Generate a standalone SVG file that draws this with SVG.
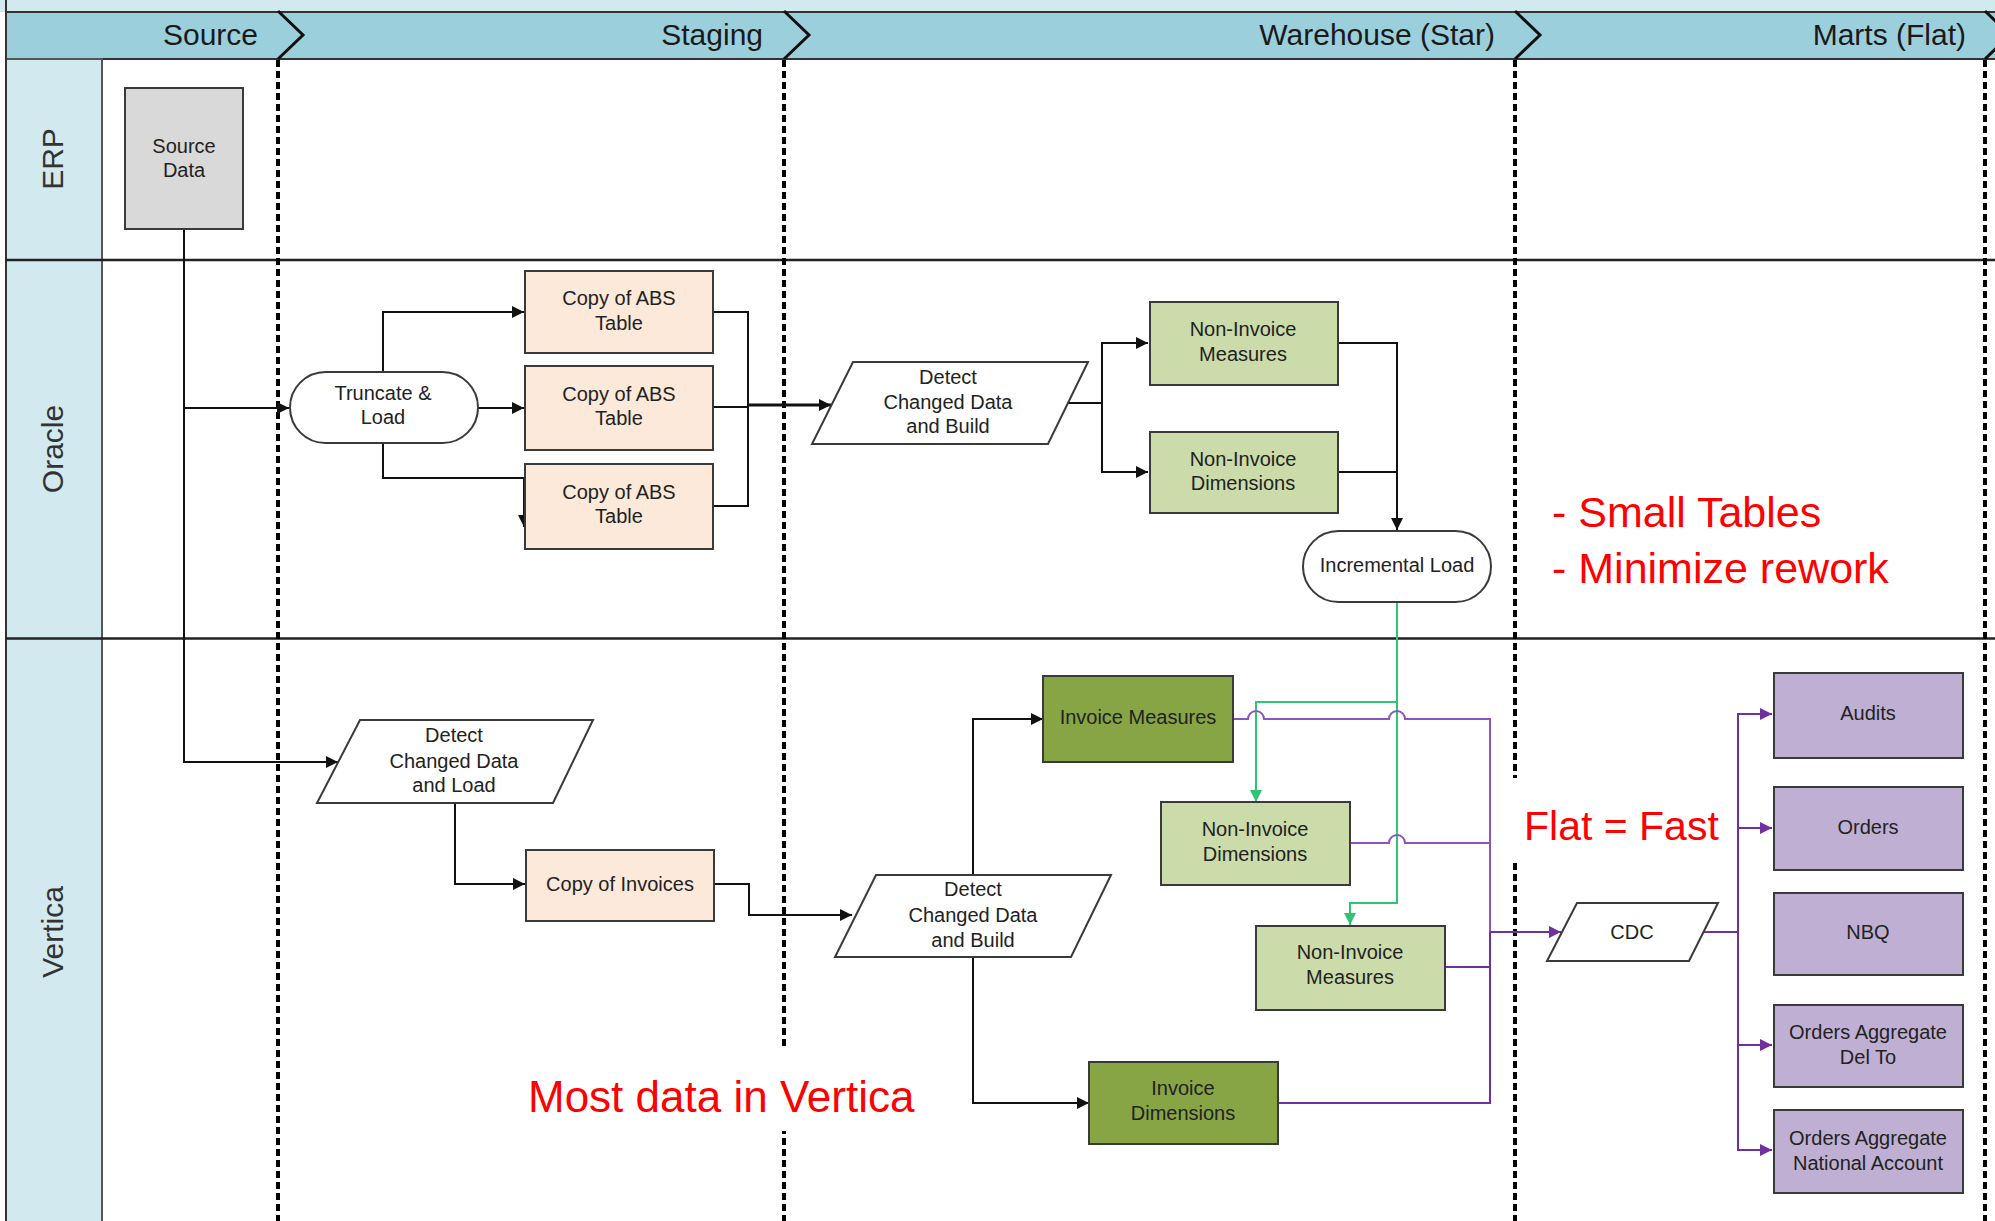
<svg xmlns="http://www.w3.org/2000/svg" width="1995" height="1221" viewBox="0 0 1995 1221">
<defs>
<marker id="ab" markerUnits="userSpaceOnUse" markerWidth="13" markerHeight="12" refX="12" refY="6" orient="auto"><path d="M0,0 L12,6 L0,12 z" fill="#111"/></marker>
<marker id="ag" markerUnits="userSpaceOnUse" markerWidth="13" markerHeight="12" refX="12" refY="6" orient="auto"><path d="M0,0 L12,6 L0,12 z" fill="#2dc472"/></marker>
<marker id="ap" markerUnits="userSpaceOnUse" markerWidth="13" markerHeight="12" refX="12" refY="6" orient="auto"><path d="M0,0 L12,6 L0,12 z" fill="#7030a0"/></marker>
</defs>
<style>
.t{font-family:"Liberation Sans",Arial,sans-serif;font-size:20px;fill:#222;text-anchor:middle}
.h{font-family:"Liberation Sans",Arial,sans-serif;font-size:30px;fill:#1a1a1a;text-anchor:end}
.ln{font-family:"Liberation Sans",Arial,sans-serif;font-size:30px;fill:#333;text-anchor:middle}
.red{font-family:"Liberation Sans",Arial,sans-serif;font-size:43px;fill:#ff0000}
.box{stroke:#3a3a3a;stroke-width:2}
.gray{fill:#d9d9d9}
.peach{fill:#fce9d9}
.lg{fill:#cbdba9}
.dg{fill:#87a545}
.pu{fill:#bfb0d3}
.wh{fill:#fff}
.cb{fill:none;stroke:#111;stroke-width:2}
.cg{fill:none;stroke:#2dc472;stroke-width:2}
.cp{fill:none;stroke:#7030a0;stroke-width:2}
.cpl{fill:none;stroke:#8a55c0;stroke-width:2}
.dash{stroke:#000;stroke-width:4;stroke-dasharray:7 4}
</style>
<rect width="1995" height="1221" fill="#fff"/>
<g id="pool">
<rect x="0" y="0" width="1995" height="12" fill="#d2e9ef"/>
<rect x="6" y="12" width="1995" height="47" fill="#9bcfdc" stroke="#333" stroke-width="2"/>
<rect x="6" y="59" width="96" height="1170" fill="#d2e9ef" stroke="#555" stroke-width="2"/>
<line x1="6" y1="0" x2="6" y2="1221" stroke="#333" stroke-width="2"/>
<line x1="6" y1="260" x2="1995" y2="260" stroke="#222" stroke-width="2.5"/>
<line x1="6" y1="638.5" x2="1995" y2="638.5" stroke="#222" stroke-width="2.5"/>
<g fill="none" stroke="#111" stroke-width="3">
<path d="M278,11 L303,35 L278,59"/>
<path d="M784,11 L809,35 L784,59"/>
<path d="M1515,11 L1540,35 L1515,59"/>
<path d="M1985,11 L2010,35 L1985,59"/>
</g>
<text class="h" x="258" y="45">Source</text>
<text class="h" x="763" y="45">Staging</text>
<text class="h" x="1495" y="45">Warehouse (Star)</text>
<text class="h" x="1966" y="45">Marts (Flat)</text>
<text class="ln" transform="translate(63,159) rotate(-90)">ERP</text>
<text class="ln" transform="translate(63,449) rotate(-90)">Oracle</text>
<text class="ln" transform="translate(63,932) rotate(-90)">Vertica</text>
<line class="dash" x1="278" y1="60" x2="278" y2="1221"/>
<line class="dash" x1="784" y1="60" x2="784" y2="1221"/>
<line class="dash" x1="1515" y1="60" x2="1515" y2="1221"/>
<line class="dash" x1="1985" y1="60" x2="1985" y2="1221"/>
</g>
<g id="connectors">
<path class="cb" d="M184,229 V408 H289" marker-end="url(#ab)"/>
<path class="cb" d="M184,408 V762 H338" marker-end="url(#ab)"/>
<path class="cb" d="M383,372 V312 H524" marker-end="url(#ab)"/>
<path class="cb" d="M478,408 H524" marker-end="url(#ab)"/>
<path class="cb" d="M383,443 V478 H524 V527" marker-end="url(#ab)"/>
<path class="cb" d="M713,312 H748 V506 H713"/>
<path class="cb" d="M713,407 H748"/>
<path class="cb" style="stroke-width:3" d="M748,405 H831" marker-end="url(#ab)"/>
<path class="cb" d="M1068,403 H1102 V343 H1148" marker-end="url(#ab)"/>
<path class="cb" d="M1102,403 V472 H1148" marker-end="url(#ab)"/>
<path class="cb" d="M1338,343 H1397 V530" marker-end="url(#ab)"/>
<path class="cb" d="M1338,472 H1397"/>
<path class="cb" d="M455,803 V884 H525" marker-end="url(#ab)"/>
<path class="cb" d="M714,884 H749 V915 H852" marker-end="url(#ab)"/>
<path class="cb" d="M973,875 V719 H1043" marker-end="url(#ab)"/>
<path class="cb" d="M973,957 V1103 H1089" marker-end="url(#ab)"/>
<path class="cg" d="M1397,602 V702 H1256 V802" marker-end="url(#ag)"/>
<path class="cg" d="M1397,702 V903 H1350 V925" marker-end="url(#ag)"/>
<path class="cpl" d="M1233,719 H1248 a8,8 0 0 1 16,0 H1389 a8,8 0 0 1 16,0 H1490 V932"/>
<path class="cpl" d="M1350,843 H1389 a8,8 0 0 1 16,0 H1490"/>
<path class="cp" d="M1490,932 V1103 H1278"/>
<path class="cp" d="M1445,967 H1490"/>
<path class="cp" d="M1490,932 H1561" marker-end="url(#ap)"/>
<path class="cp" d="M1703,932 H1738 V714 H1772" marker-end="url(#ap)"/>
<path class="cp" d="M1738,828 H1772" marker-end="url(#ap)"/>
<path class="cp" d="M1738,932 V1150 H1772" marker-end="url(#ap)"/>
<path class="cp" d="M1738,1045 H1772" marker-end="url(#ap)"/>
</g>
<g id="n-source-data"><rect class="box gray" x="125" y="88" width="118" height="141"/><text class="t" x="184" y="153">Source</text><text class="t" x="184" y="177">Data</text></g>
<g id="n-truncate"><rect class="box wh" x="290" y="372" width="188" height="71" rx="35.5"/><text class="t" x="383" y="400">Truncate &amp;</text><text class="t" x="383" y="424">Load</text></g>
<g id="n-abs1"><rect class="box peach" x="525" y="271" width="188" height="82"/><text class="t" x="619" y="305">Copy of ABS</text><text class="t" x="619" y="330">Table</text></g>
<g id="n-abs2"><rect class="box peach" x="525" y="366" width="188" height="84"/><text class="t" x="619" y="401">Copy of ABS</text><text class="t" x="619" y="425">Table</text></g>
<g id="n-abs3"><rect class="box peach" x="525" y="464" width="188" height="85"/><text class="t" x="619" y="499">Copy of ABS</text><text class="t" x="619" y="523">Table</text></g>
<g id="n-detect-oracle"><path class="box wh" d="M853,362 H1088 L1048,444 H812 Z"/><text class="t" x="948" y="384">Detect</text><text class="t" x="948" y="409">Changed Data</text><text class="t" x="948" y="433">and Build</text></g>
<g id="n-ni-measures-o"><rect class="box lg" x="1150" y="302" width="188" height="83"/><text class="t" x="1243" y="336">Non-Invoice</text><text class="t" x="1243" y="361">Measures</text></g>
<g id="n-ni-dims-o"><rect class="box lg" x="1150" y="432" width="188" height="81"/><text class="t" x="1243" y="466">Non-Invoice</text><text class="t" x="1243" y="490">Dimensions</text></g>
<g id="n-incremental"><rect class="box wh" x="1303" y="531" width="188" height="71" rx="35.5"/><text class="t" x="1397" y="572">Incremental Load</text></g>
<g id="n-detect-load"><path class="box wh" d="M360,720 H593 L553,803 H317 Z"/><text class="t" x="454" y="742">Detect</text><text class="t" x="454" y="768">Changed Data</text><text class="t" x="454" y="792">and Load</text></g>
<g id="n-copy-invoices"><rect class="box peach" x="526" y="850" width="188" height="71"/><text class="t" x="620" y="891">Copy of Invoices</text></g>
<g id="n-detect-build"><path class="box wh" d="M876,875 H1111 L1071,957 H835 Z"/><text class="t" x="973" y="896">Detect</text><text class="t" x="973" y="922">Changed Data</text><text class="t" x="973" y="947">and Build</text></g>
<g id="n-invoice-measures"><rect class="box dg" x="1043" y="676" width="190" height="86"/><text class="t" x="1138" y="724">Invoice Measures</text></g>
<g id="n-ni-dims-v"><rect class="box lg" x="1161" y="802" width="189" height="83"/><text class="t" x="1255" y="836">Non-Invoice</text><text class="t" x="1255" y="861">Dimensions</text></g>
<g id="n-ni-measures-v"><rect class="box lg" x="1256" y="926" width="189" height="84"/><text class="t" x="1350" y="959">Non-Invoice</text><text class="t" x="1350" y="984">Measures</text></g>
<g id="n-invoice-dims"><rect class="box dg" x="1089" y="1062" width="189" height="82"/><text class="t" x="1183" y="1095">Invoice</text><text class="t" x="1183" y="1120">Dimensions</text></g>
<g id="n-cdc"><path class="box wh" d="M1577,903 H1718 L1689,961 H1547 Z"/><text class="t" x="1632" y="939">CDC</text></g>
<g id="n-audits"><rect class="box pu" x="1774" y="673" width="189" height="85"/><text class="t" x="1868" y="720">Audits</text></g>
<g id="n-orders"><rect class="box pu" x="1774" y="787" width="189" height="83"/><text class="t" x="1868" y="834">Orders</text></g>
<g id="n-nbq"><rect class="box pu" x="1774" y="893" width="189" height="82"/><text class="t" x="1868" y="939">NBQ</text></g>
<g id="n-agg-delto"><rect class="box pu" x="1774" y="1005" width="189" height="82"/><text class="t" x="1868" y="1039">Orders Aggregate</text><text class="t" x="1868" y="1064">Del To</text></g>
<g id="n-agg-national"><rect class="box pu" x="1774" y="1110" width="189" height="83"/><text class="t" x="1868" y="1145">Orders Aggregate</text><text class="t" x="1868" y="1170">National Account</text></g>
<g id="notes">
<text class="red" x="1552" y="527">- Small Tables</text>
<text class="red" x="1552" y="583">- Minimize rework</text>
<rect x="1500" y="778" width="237" height="82" fill="#fff"/>
<text class="red" x="1524" y="840" style="font-size:41px">Flat = Fast</text>
<rect x="522" y="1047" width="402" height="84" fill="#fff"/>
<text class="red" x="528" y="1112" style="font-size:44px">Most data in Vertica</text>
</g>
</svg>
